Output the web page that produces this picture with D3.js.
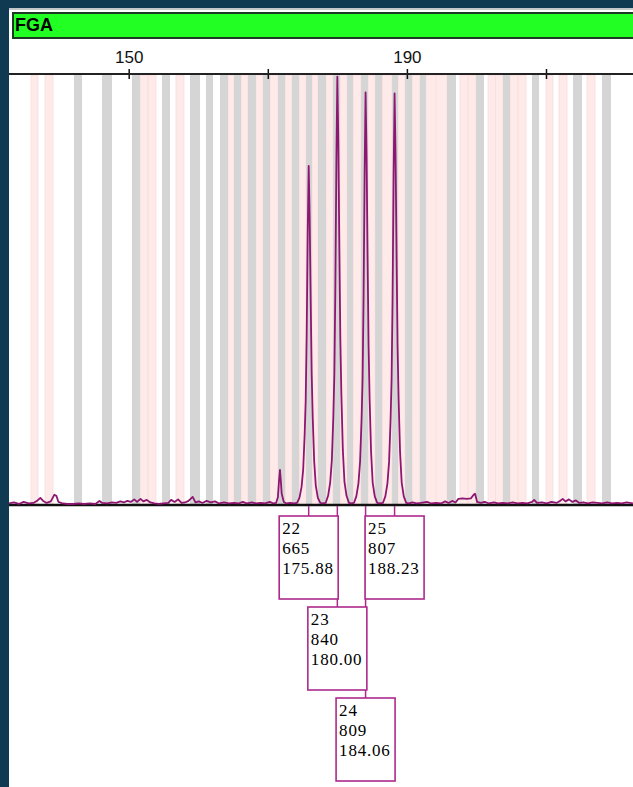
<!DOCTYPE html>
<html><head><meta charset="utf-8">
<script src="https://cdn.jsdelivr.net/npm/d3@7"></script>
<style>html,body{margin:0;padding:0;background:#103a52;overflow:hidden}svg{display:block}</style>
</head><body><svg id="c" width="633" height="787"></svg>
<script>
// ---------------- data ----------------
const markerName = "FGA";
const axisTicks = [150, 170, 190, 210];
const axisLabels = [150, 190];
const alleles = ["22", "23", "24", "25"];
const sizes = [175.88, 180.00, 184.06, 188.23];
const heights = [665, 840, 809, 807];

const grayBins = [
  [142.13,143.29],[146.16,147.60],[150.47,151.62],[154.79,155.94],[158.81,160.25],
  [161.11,162.12],[163.13,164.28],[165.14,166.15],[167.15,168.30],[169.31,170.32],
  [171.47,172.48],[173.48,174.49],[175.50,176.36],[177.22,178.37],[179.38,180.39],
  [181.40,182.26],[183.41,184.42],[185.43,186.44],[187.87,188.73],[189.74,190.75],
  [191.88,192.74],[195.77,197.06],[199.94,201.09],[203.82,204.83],[207.99,209.00],
  [213.89,215.18],[218.05,219.34]
];
const pinkBins = [
  [135.95,136.96],[137.97,139.12],[151.62,152.77],[152.77,153.92],[156.80,157.95],
  [164.28,165.14],[166.15,167.15],[168.30,169.31],[170.32,171.47],[172.48,173.48],
  [174.49,175.50],[176.36,177.22],[178.37,179.38],[180.39,181.40],[182.26,183.41],
  [184.42,185.43],[186.44,187.87],[188.73,189.74],[190.75,191.88],[192.74,194.32],
  [194.19,195.77],[197.64,198.79],[198.79,199.94],[201.67,202.75],[202.75,203.82],
  [204.83,205.98],[205.98,207.13],[210.00,211.00],[211.87,213.02],[215.90,217.05]
];

// electropherogram trace: [size (bp), RFU]
const trace = [
  [132.8,3],[133.5,5],[134.2,2],[134.9,6],[135.6,3],[136.3,4],[136.9,9],[137.3,14],[137.7,8],
  [138.2,4],[138.8,7],[139.3,20],[139.6,18],[139.9,6],[140.5,3],[141.2,2],[142.0,2],[142.8,3],
  [143.6,2],[144.4,3],[145.2,2],[145.8,8],[146.2,4],[146.9,3],[147.6,5],[148.2,4],[148.8,7],
  [149.3,5],[149.8,8],[150.3,6],[150.8,11],[151.2,6],[151.7,12],[152.1,7],[152.6,10],[153.1,5],
  [153.7,3],[154.3,2],[155.0,3],[155.7,4],[156.1,10],[156.6,6],[157.1,11],[157.6,4],[158.1,5],
  [158.6,8],[159.2,16],[159.6,5],[160.1,7],[160.6,4],[161.2,8],[161.8,5],[162.4,7],[163.0,3],
  [163.7,5],[164.4,3],[165.1,4],[165.8,3],[166.4,6],[167.0,3],[167.7,5],[168.3,3],[169.0,4],
  [169.6,3],[170.3,6],[170.8,3],
  [171.2,4],[171.45,15],[171.6,45],[171.75,69],[171.85,52],[172.0,22],[172.3,6],[172.7,3],
  [173.2,4],[173.8,3],
  [174.20,4],[174.55,14],[174.85,35],[175.09,70],[175.30,138],[175.45,205],[175.59,333],
  [175.74,532],[175.88,665],[176.02,565],[176.17,399],[176.31,258],[176.46,172],[176.67,86],
  [176.90,38],[177.20,14],[177.55,4],[177.85,3],
  [178.32,4],[178.67,18],[178.97,44],[179.21,88],[179.42,172],[179.57,256],[179.71,420],
  [179.86,672],[180.00,840],[180.14,714],[180.29,504],[180.43,325],[180.58,216],[180.79,108],
  [181.02,46],[181.32,18],[181.68,4],[182.05,3],
  [182.38,4],[182.73,17],[183.03,42],[183.27,85],[183.48,166],[183.63,247],[183.77,405],
  [183.92,647],[184.06,809],[184.20,688],[184.35,485],[184.49,313],[184.64,208],[184.85,104],
  [185.08,44],[185.38,17],[185.74,4],[186.1,3],
  [186.55,4],[186.90,17],[187.20,42],[187.44,85],[187.65,165],[187.80,246],[187.94,404],
  [188.09,646],[188.23,807],[188.37,686],[188.52,484],[188.66,312],[188.81,207],[189.02,103],
  [189.25,44],[189.55,17],[189.91,4],
  [190.3,3],[190.8,5],[191.4,3],[192.0,4],[192.9,6],[193.5,3],[194.2,4],[194.9,3],[195.5,7],
  [196.0,4],[196.5,8],[197.0,5],[197.4,12],[198.0,13],[198.6,12],[199.2,13],[199.6,20],
  [199.8,22],[200.1,6],[200.6,4],[201.2,6],[201.8,3],[202.5,5],[203.1,3],[203.8,4],[204.5,3],
  [205.2,5],[205.9,3],[206.6,4],[207.3,3],[208.0,6],[208.3,10],[208.7,4],[209.4,5],[210.1,3],
  [210.8,6],[211.5,4],[212.0,8],[212.4,12],[212.8,7],[213.3,11],[213.8,6],[214.3,9],[214.8,4],
  [215.4,5],[216.0,3],[216.7,5],[217.4,4],[218.1,3],[218.8,5],[219.5,3],[220.2,4],[220.9,3],
  [221.6,5],[222.5,3]
];

// ---------------- layout ----------------
const W = 633, H = 787;
const panelL = 9, panelT = 8;
const axisY = 74, baseY = 505;
const svg = d3.select("#c");

const x = d3.scaleLinear().domain([132.79, 222.51]).range([panelL, W]);
const y = d3.scaleLinear().domain([0, 845]).range([baseY, axisY]);

// white panel
svg.append("rect").attr("x", panelL).attr("y", panelT).attr("width", W - panelL).attr("height", H - panelT).attr("fill", "#fff");
svg.append("line").attr("x1", panelL).attr("x2", W).attr("y1", panelT + 1).attr("y2", panelT + 1)
  .attr("stroke", "#c4c8cc").attr("stroke-width", 2);

// marker header
svg.append("rect").attr("x", 13).attr("y", 13).attr("width", W + 10 - 13).attr("height", 25)
  .attr("fill", "#22ff22").attr("stroke", "#1c3a22").attr("stroke-width", 2);
svg.append("text").attr("x", 15).attr("y", 31).text(markerName)
  .attr("font-family", "Liberation Sans, Arial, sans-serif").attr("font-weight", "bold")
  .attr("font-size", 18).attr("fill", "#000");

// bins
const clipId = "plotclip";
svg.append("clipPath").attr("id", clipId).append("rect")
  .attr("x", panelL).attr("y", axisY + 1).attr("width", W - panelL).attr("height", baseY - axisY - 1);
const binG = svg.append("g").attr("clip-path", `url(#${clipId})`);
binG.selectAll("rect.pink").data(pinkBins).join("rect").attr("class", "pink")
  .attr("x", d => x(d[0])).attr("width", d => x(d[1]) - x(d[0]))
  .attr("y", axisY + 1).attr("height", baseY - axisY - 1)
  .attr("fill", "#ffeaea").attr("stroke", "#fadcdc").attr("stroke-width", 0.8);
binG.selectAll("rect.gray").data(grayBins).join("rect").attr("class", "gray")
  .attr("x", d => x(d[0])).attr("width", d => x(d[1]) - x(d[0]))
  .attr("y", axisY + 1).attr("height", baseY - axisY - 1)
  .attr("fill", "#d5d5d5");

// top axis
const axis = d3.axisTop(x).tickValues(axisTicks)
  .tickFormat(d => axisLabels.includes(d) ? d : "")
  .tickSize(10).tickPadding(6);
const ag = svg.append("g").attr("transform", `translate(0,${axisY + 5})`).call(axis);
ag.select(".domain").remove();
ag.selectAll(".tick line").attr("stroke", "#111").attr("stroke-width", 1.5);
ag.selectAll(".tick text").attr("font-family", "Liberation Sans, Arial, sans-serif")
  .attr("font-size", 17).attr("fill", "#111");
svg.append("line").attr("x1", panelL).attr("x2", W).attr("y1", axisY).attr("y2", axisY)
  .attr("stroke", "#222").attr("stroke-width", 1.8);

// baseline
svg.append("line").attr("x1", panelL).attr("x2", W).attr("y1", baseY).attr("y2", baseY)
  .attr("stroke", "#111").attr("stroke-width", 2.5);

// trace
const line = d3.line().x(d => x(d[0])).y(d => y(d[1]));
svg.append("g").attr("clip-path", `url(#${clipId})`).append("path").datum(trace)
  .attr("d", line).attr("fill", "none").attr("stroke", "#8e1670").attr("stroke-width", 1.8)
  .attr("stroke-linejoin", "round");

// peak labels
const boxW = 59, boxH = 83, rowTop = 516, rowStep = 91, minGap = 60;
const peaks = alleles.map((a, i) => ({ allele: a, size: sizes[i], height: heights[i], px: x(sizes[i]) }));
const rows = [];
peaks.slice().sort((a, b) => a.px - b.px).forEach(p => {
  let r = 0;
  while (rows[r] && rows[r].some(q => Math.abs(q.px - p.px) < minGap)) r++;
  (rows[r] = rows[r] || []).push(p);
  p.row = r;
});
const labColor = "#ad2a8c";
const lg = svg.append("g");
lg.selectAll("line").data(peaks).join("line")
  .attr("x1", d => d.px).attr("x2", d => d.px)
  .attr("y1", baseY + 1).attr("y2", d => rowTop + d.row * rowStep)
  .attr("stroke", labColor).attr("stroke-width", 1.5);
const bg = lg.selectAll("g.box").data(peaks).join("g").attr("class", "box")
  .attr("transform", d => `translate(${d.px - boxW / 2},${rowTop + d.row * rowStep})`);
bg.append("rect").attr("width", boxW).attr("height", boxH)
  .attr("fill", "#fff").attr("stroke", labColor).attr("stroke-width", 1.6);
bg.each(function (d) {
  const g = d3.select(this);
  [d.allele, String(d.height), d.size.toFixed(2)].forEach((t, k) => {
    g.append("text").attr("x", 3).attr("y", 18 + k * 20).text(t)
      .attr("font-family", "Liberation Serif, Times New Roman, serif")
      .attr("font-size", 17).attr("letter-spacing", 0.8).attr("fill", "#000");
  });
});
</script>
</body></html>
